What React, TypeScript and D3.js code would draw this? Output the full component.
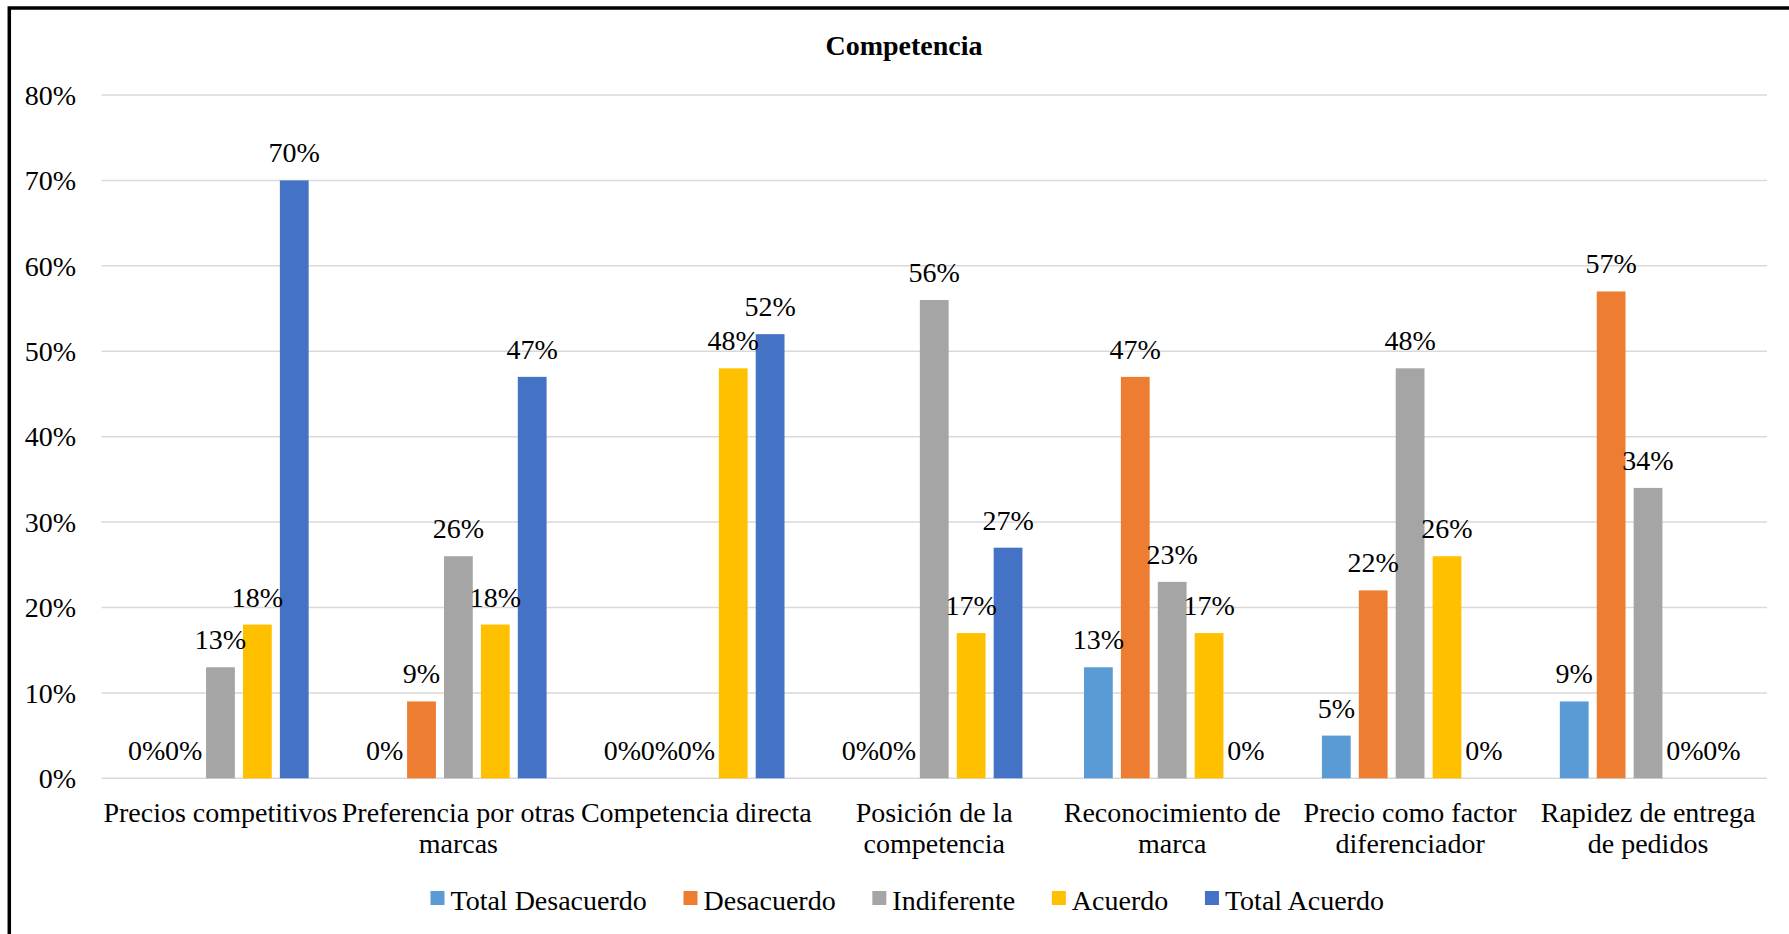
import React, { useMemo } from "react";
import * as d3 from "d3";

const title = "Competencia";

const categories = [
  "Precios competitivos",
  "Preferencia por otras marcas",
  "Competencia directa",
  "Posición de la competencia",
  "Reconocimiento de marca",
  "Precio como factor diferenciador",
  "Rapidez de entrega de pedidos",
];

const seriesNames = ["Total Desacuerdo", "Desacuerdo", "Indiferente", "Acuerdo", "Total Acuerdo"];
const seriesColors = ["#5B9BD5", "#ED7D31", "#A5A5A5", "#FFC000", "#4472C4"];

const totalDesacuerdo = [0, 0, 0, 0, 0.13, 0.05, 0.09];
const desacuerdo = [0, 0.09, 0, 0, 0.47, 0.22, 0.57];
const indiferente = [0.13, 0.26, 0, 0.56, 0.23, 0.48, 0.34];
const acuerdo = [0.18, 0.18, 0.48, 0.17, 0.17, 0.26, 0];
const totalAcuerdo = [0.7, 0.47, 0.52, 0.27, 0, 0, 0];

const seriesValues = [totalDesacuerdo, desacuerdo, indiferente, acuerdo, totalAcuerdo];

const yTicks = [0, 0.1, 0.2, 0.3, 0.4, 0.5, 0.6, 0.7, 0.8];

const W = 1789;
const H = 934;
const FONT = "'Liberation Serif', 'Times New Roman', Times, serif";
const FS = 28;

const plot = { left: 101.5, right: 1767, top: 95, bottom: 778.3 };

const canvasCtx = (() => {
  const c = document.createElement("canvas");
  return c.getContext("2d")!;
})();

function measure(text: string, weight = "normal") {
  canvasCtx.font = `${weight} ${FS}px ${FONT}`;
  return canvasCtx.measureText(text).width;
}

function wrap(text: string, maxWidth: number) {
  const words = text.split(" ");
  const lines: string[] = [];
  let cur = "";
  for (const w of words) {
    const t = cur ? cur + " " + w : w;
    if (cur && measure(t) > maxWidth) {
      lines.push(cur);
      cur = w;
    } else {
      cur = t;
    }
  }
  if (cur) lines.push(cur);
  return lines;
}

export default function App() {
  const x0 = useMemo(
    () => d3.scaleBand<string>().domain(categories).range([plot.left, plot.right]).padding(0),
    []
  );
  const groupHalf = 92.25;
  const x1 = useMemo(
    () =>
      d3
        .scaleBand<string>()
        .domain(seriesNames)
        .range([-groupHalf, groupHalf])
        .paddingInner(0.22)
        .paddingOuter(0.11),
    []
  );
  const y = useMemo(() => d3.scaleLinear().domain([0, 0.8]).range([plot.bottom, plot.top]), []);
  const fmt = d3.format(".0%");

  // legend layout, centred below the plot
  const legendItems = seriesNames.map((name, i) => ({ name, color: seriesColors[i], w: measure(name) }));
  const sq = 14;
  const sqGap = 6;
  const itemGap = 36.7;
  const legendWidth =
    legendItems.reduce((s, it) => s + sq + sqGap + it.w, 0) + itemGap * (legendItems.length - 1);
  let lx = 908 - legendWidth / 2;
  const legendPos = legendItems.map((it) => {
    const p = { ...it, x: lx };
    lx += sq + sqGap + it.w + itemGap;
    return p;
  });

  return (
    <svg
      width={W}
      height={H}
      style={{ position: "absolute", left: 0, top: 0, background: "#fff" }}
      fontFamily={FONT}
    >
      <rect x={0} y={0} width={W} height={H} fill="#fff" />
      {/* chart frame */}
      <path d={`M9.3,${H + 10} L9.3,8 L${W + 10},8`} fill="none" stroke="#000" strokeWidth={3.5} />

      <text x={904} y={55} textAnchor="middle" fontSize={FS} fontWeight="bold" fill="#000">
        {title}
      </text>

      {/* gridlines and y labels */}
      {yTicks.map((t) => (
        <g key={t}>
          <line x1={plot.left} x2={plot.right} y1={y(t)} y2={y(t)} stroke="#D9D9D9" strokeWidth={1.5} />
          <text x={76} y={y(t)} dy="0.35em" textAnchor="end" fontSize={FS} fill="#000">
            {fmt(t)}
          </text>
        </g>
      ))}

      {/* bars */}
      {categories.map((cat, ci) => {
        const cx = (x0(cat) as number) + x0.bandwidth() / 2;
        return (
          <g key={cat}>
            {seriesNames.map((s, si) => {
              const v = seriesValues[si][ci];
              const bx = cx + (x1(s) as number);
              const top = y(v);
              return (
                <rect
                  key={s}
                  x={bx}
                  y={top}
                  width={x1.bandwidth()}
                  height={plot.bottom - top}
                  fill={seriesColors[si]}
                />
              );
            })}
          </g>
        );
      })}

      {/* value labels */}
      {categories.map((cat, ci) => {
        const cx = (x0(cat) as number) + x0.bandwidth() / 2;
        return (
          <g key={cat + "-lbl"}>
            {seriesNames.map((s, si) => {
              const v = seriesValues[si][ci];
              const bx = cx + (x1(s) as number) + x1.bandwidth() / 2;
              return (
                <text key={s} x={bx} y={y(v) - 18} textAnchor="middle" fontSize={FS} fill="#000">
                  {fmt(v)}
                </text>
              );
            })}
          </g>
        );
      })}

      {/* category labels */}
      {categories.map((cat) => {
        const cx = (x0(cat) as number) + x0.bandwidth() / 2;
        const lines = wrap(cat, x0.bandwidth());
        return (
          <text key={cat + "-x"} x={cx} y={821.7} textAnchor="middle" fontSize={FS} fill="#000">
            {lines.map((ln, i) => (
              <tspan key={i} x={cx} dy={i === 0 ? 0 : 31.7}>
                {ln}
              </tspan>
            ))}
          </text>
        );
      })}

      {/* legend */}
      {legendPos.map((it) => (
        <g key={it.name}>
          <rect x={it.x} y={891} width={sq} height={sq} fill={it.color} />
          <text x={it.x + sq + sqGap} y={910} fontSize={FS} fill="#000">
            {it.name}
          </text>
        </g>
      ))}
    </svg>
  );
}
